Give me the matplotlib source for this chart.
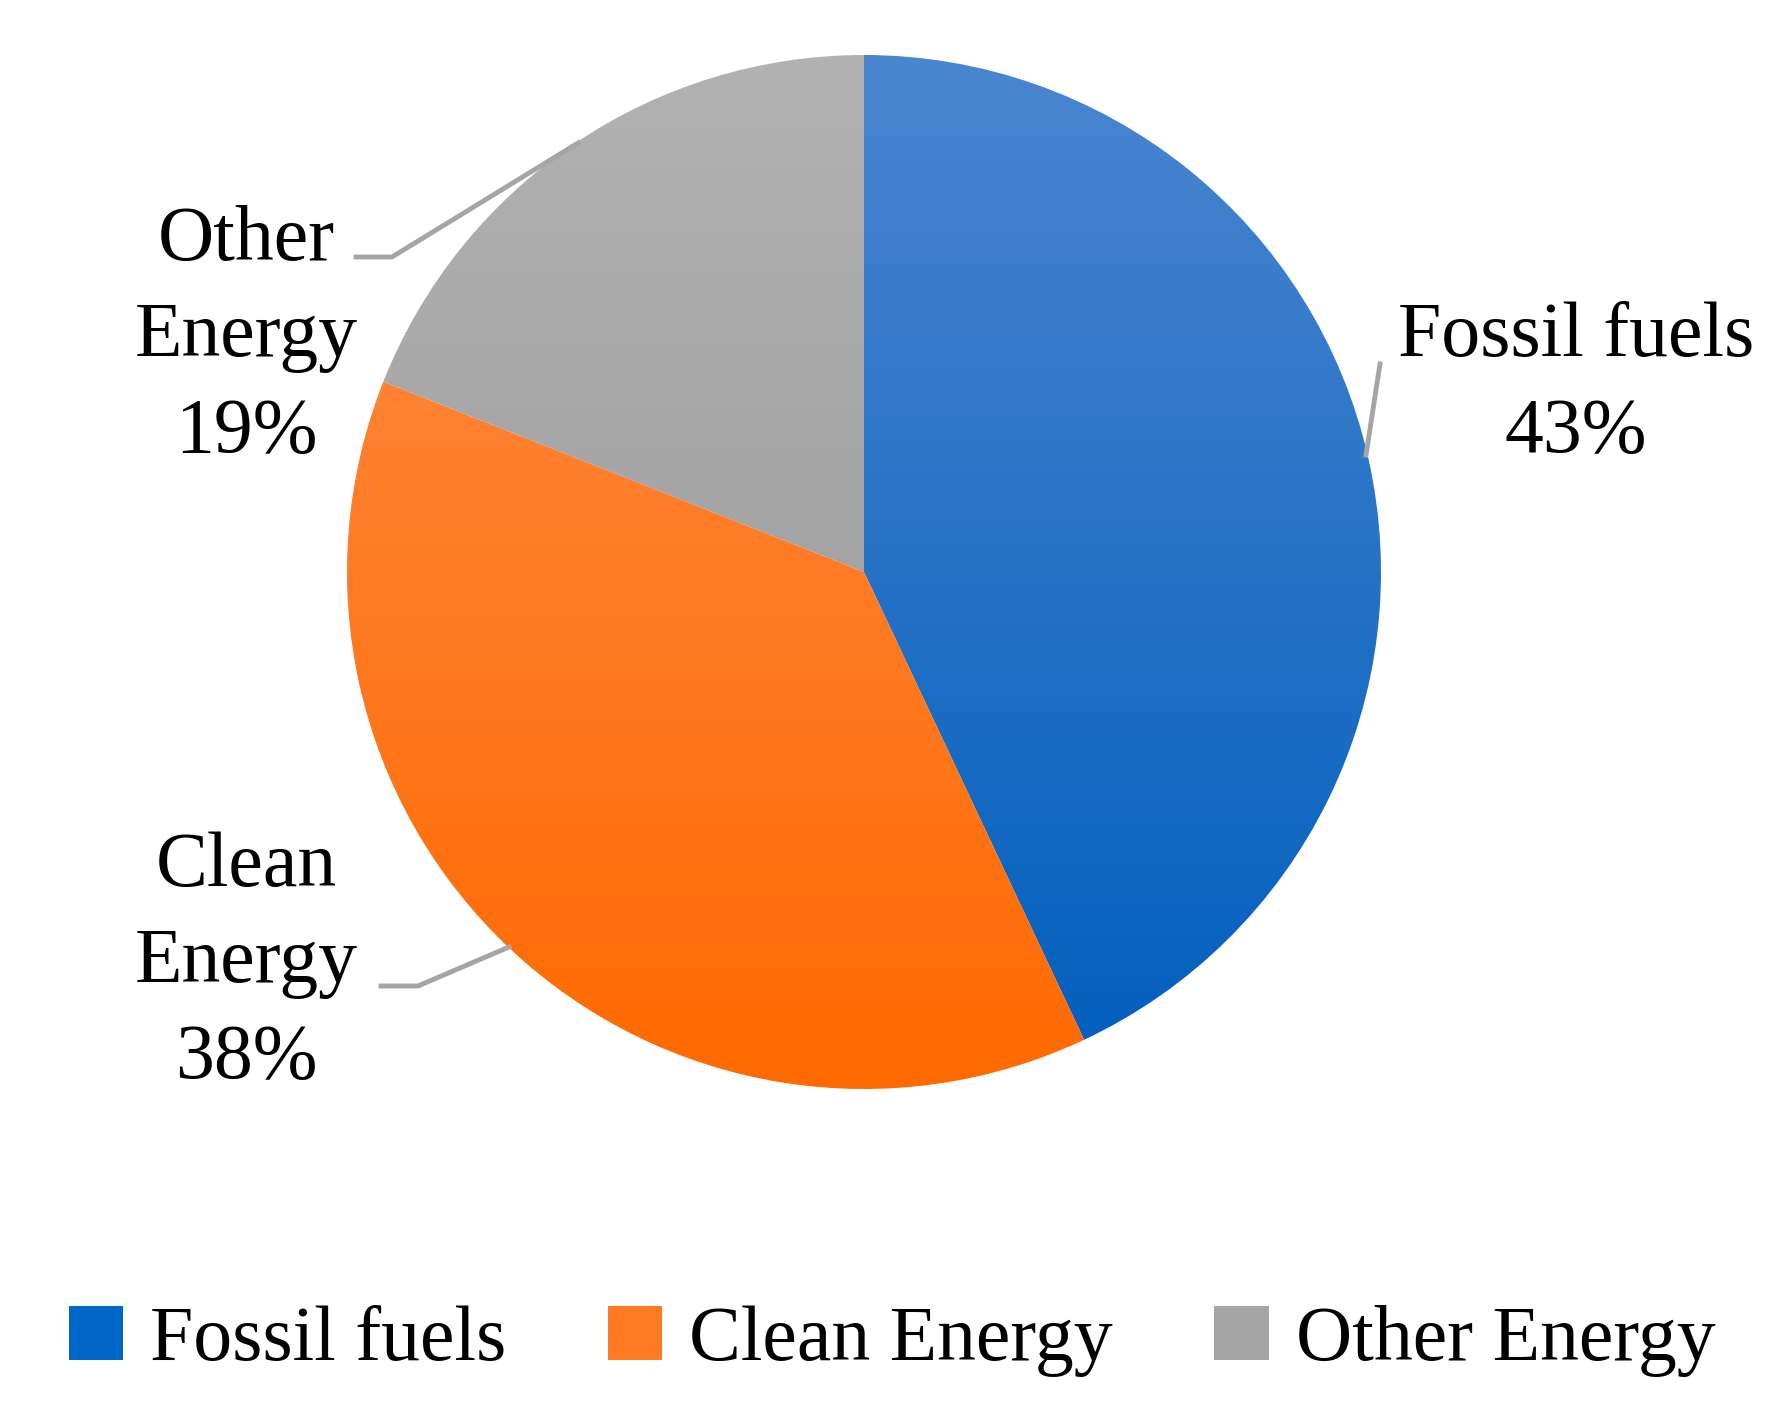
import numpy as np
import matplotlib
matplotlib.use("Agg")
import matplotlib.pyplot as plt
from matplotlib.colors import LinearSegmentedColormap
from matplotlib.patches import Patch
from matplotlib.lines import Line2D

categories = ["Fossil fuels", "Clean Energy", "Other Energy"]
values = [43, 38, 19]
label_texts = ["Fossil fuels\n43%", "Clean\nEnergy\n38%", "Other\nEnergy\n19%"]
top_colors = ["#4a86d0", "#ff8d4c", "#b2b2b2"]
bot_colors = ["#005ebd", "#ff6a00", "#959595"]
mid_colors = ["#0067c6", "#ff7a20", "#a5a5a5"]

plt.rcParams['font.family'] = ['Liberation Serif', 'DejaVu Serif']
W, H = 1784, 1415
fig = plt.figure(figsize=(W/100, H/100), dpi=100)
cx, cy, r = 864, 572, 517
ax = fig.add_axes([(cx-r)/W, 1-(cy+r)/H, 2*r/W, 2*r/H])
wedges, _ = ax.pie(values, startangle=90, counterclock=False, colors=mid_colors,
                   radius=1, wedgeprops=dict(edgecolor="white", linewidth=2.5))
grad = np.linspace(1, 0, 256).reshape(-1, 1)
for w, t, b in zip(wedges, top_colors, bot_colors):
    cmap = LinearSegmentedColormap.from_list("g", [b, t])
    im = ax.imshow(grad, extent=[-1, 1, -1, 1], cmap=cmap, aspect='auto',
                   origin='upper', zorder=w.get_zorder()+0.1, vmin=0, vmax=1)
    im.set_clip_path(w)
ax.set_xlim(-1, 1); ax.set_ylim(-1, 1); ax.set_aspect('equal'); ax.axis('off')

def fx(x): return x/W
def fy(y): return 1-y/H
fs = 56
fig.text(fx(1576), fy(385), label_texts[0], ha='center', va='center', fontsize=fs, linespacing=1.45)
fig.text(fx(246), fy(337), label_texts[2], ha='center', va='center', fontsize=fs, linespacing=1.45)
fig.text(fx(246), fy(963), label_texts[1], ha='center', va='center', fontsize=fs, linespacing=1.45)
lc = "#a5a5a5"
for xs, ys in [([1366, 1380], [455, 364]),
               ([578, 392, 356], [143, 257, 257]),
               ([509, 418, 381], [947, 986, 986])]:
    fig.add_artist(Line2D([fx(v) for v in xs], [fy(v) for v in ys], color=lc, lw=3.5))

handles = [Patch(facecolor=c, edgecolor='none') for c in mid_colors]
fig.legend(handles, categories, loc='center', bbox_to_anchor=(0.5, 0.052), ncol=3,
           frameon=False, fontsize=fs, handlelength=0.7, handleheight=0.7,
           handletextpad=0.35, columnspacing=1.3)
fig.savefig("out.png", dpi=100)
